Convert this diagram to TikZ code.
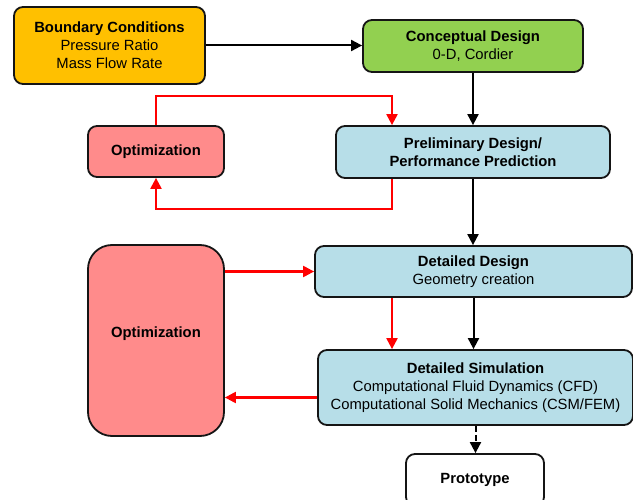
\documentclass[tikz,border=0pt]{standalone}
\usepackage{fontspec}
\setmainfont{Liberation Sans}
\usetikzlibrary{arrows.meta,positioning}
\definecolor{bcorange}{HTML}{FFC000}
\definecolor{cdgreen}{HTML}{92D050}
\definecolor{optpink}{HTML}{FF8B8B}
\definecolor{stepblue}{HTML}{B7DEE8}
\definecolor{boxline}{HTML}{151515}
\definecolor{optred}{HTML}{FF0000}
\tikzset{
	box/.style={draw=boxline, line width=1.8pt, rounded corners=9pt, align=center, inner sep=0pt,
		font=\fontsize{14.8}{18}\selectfont},
	flow/.style={line width=2pt, -{Triangle[length=11pt,width=11pt]}},
	feedback/.style={flow, draw=optred, line width=2.2pt},
}
\begin{document}
\begin{tikzpicture}[x=1pt,y=-1pt]
	\useasboundingbox (0,0) rectangle (633,500);
	\node[box, fill=bcorange, minimum width=191pt, minimum height=77pt] (bc) at (109.5,45.5)
		{\textbf{Boundary Conditions}\\Pressure Ratio\\Mass Flow Rate};
	\node[box, fill=cdgreen, minimum width=220pt, minimum height=52pt] (concept) at (473,46)
		{\textbf{Conceptual Design}\\0-D, Cordier};
	\node[box, fill=optpink, minimum width=136pt, minimum height=51pt] (optsmall) at (156,151.5)
		{\textbf{Optimization}};
	\node[box, fill=stepblue, minimum width=274pt, minimum height=52pt] (prelim) at (473,152)
		{\textbf{Preliminary Design/}\\\textbf{Performance Prediction}};
	\node[box, fill=optpink, rounded corners=24pt, minimum width=136pt, minimum height=191pt,
		text depth=17pt] (optbig) at (156,340.5) {\textbf{Optimization}};
	\node[box, fill=stepblue, minimum width=317pt, minimum height=51pt] (detdes) at (473.5,271.5)
		{\textbf{Detailed Design}\\Geometry creation};
	\node[box, fill=stepblue, minimum width=315pt, minimum height=75pt] (detsim) at (475.5,387.5)
		{\textbf{Detailed Simulation}\\Computational Fluid Dynamics (CFD)\\Computational Solid Mechanics (CSM/FEM)};
	\node[box, fill=white, minimum width=138pt, minimum height=52pt] (proto) at (475,480)
		{\textbf{Prototype}};

	\draw[flow] (bc.east) -- (bc.east -| concept.west);
	\draw[flow] (concept.south) -- (concept.south |- prelim.north);
	\draw[flow] (prelim.south) -- (prelim.south |- detdes.north);
	\draw[flow] (detdes.south) -- (detdes.south |- detsim.north);
	\draw[flow, dash pattern=on 6pt off 3pt] (detsim.south) -- (detsim.south |- proto.north);

	\draw[feedback] (optsmall.north) |- ([xshift=-81pt, yshift=29pt]prelim.north) -- ([xshift=-81pt]prelim.north);
	\draw[feedback] ([xshift=-81pt]prelim.south) -- ++(0,30) -| (optsmall.south);
	\draw[feedback] (optbig.east |- detdes.west) -- (detdes.west);
	\draw[feedback] ([xshift=-81.5pt]detdes.south) -- ([xshift=-81.5pt]detdes.south |- detsim.north);
	\draw[feedback] ([yshift=-10pt]detsim.west) -- ([yshift=-10pt]detsim.west -| optbig.east);
\end{tikzpicture}
\end{document}
